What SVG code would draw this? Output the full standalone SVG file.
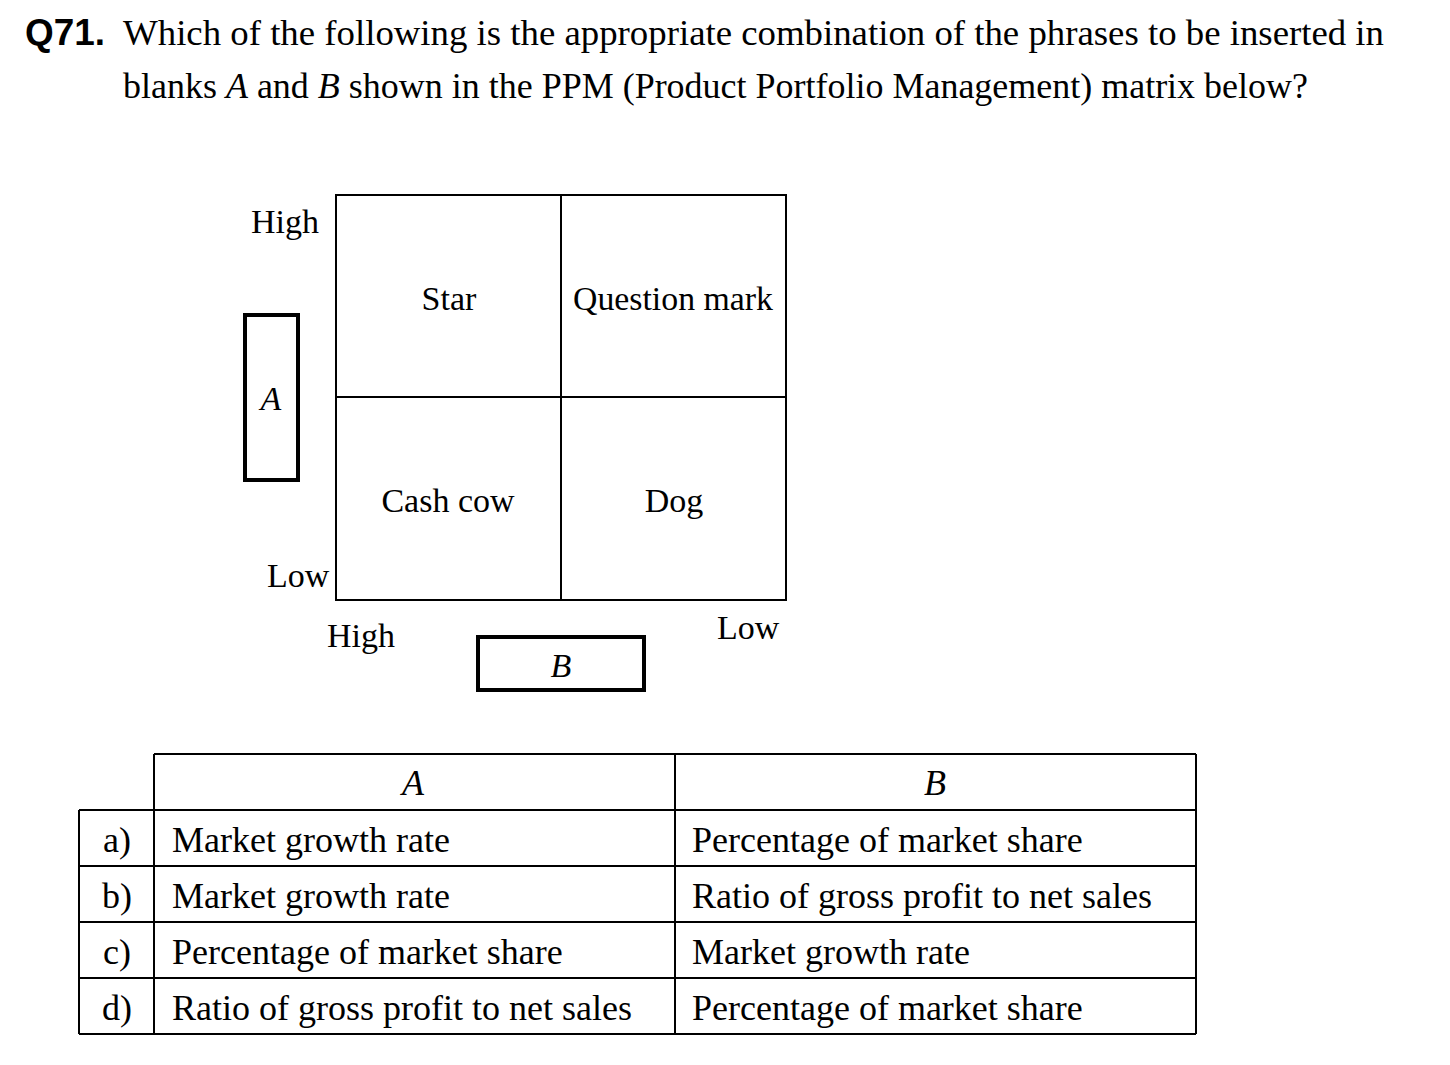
<svg xmlns="http://www.w3.org/2000/svg" width="1450" height="1065" viewBox="0 0 1450 1065">
<style>
.t{font-family:"Liberation Serif","Times New Roman",serif;font-size:36px;fill:#000}
.m{font-family:"Liberation Serif","Times New Roman",serif;font-size:34px;fill:#000}
.tb{font-family:"Liberation Serif","Times New Roman",serif;font-size:36px;fill:#000}
.i{font-style:italic}
.c{text-anchor:middle}
.q{font-family:"Liberation Sans",Arial,sans-serif;font-weight:bold;font-size:36px;fill:#000}
.ln{stroke:#000;stroke-width:2;fill:none}
.bx{stroke:#000;stroke-width:4;fill:none}
</style>
<rect width="1450" height="1065" fill="#fff"/>
<g id="question">
<text class="q" x="25" y="45" textLength="80" lengthAdjust="spacingAndGlyphs">Q71.</text>
<text class="t" x="123" y="45" textLength="1261" lengthAdjust="spacingAndGlyphs">Which of the following is the appropriate combination of the phrases to be inserted in</text>
<text class="t" x="123" y="98" textLength="1185" lengthAdjust="spacingAndGlyphs">blanks <tspan font-style="italic">A</tspan> and <tspan font-style="italic">B</tspan> shown in the PPM (Product Portfolio Management) matrix below?</text>
</g>
<g id="matrix">
<rect class="ln" x="336" y="195" width="450" height="405"/>
<line class="ln" x1="561" y1="195" x2="561" y2="600"/>
<line class="ln" x1="336" y1="397" x2="786" y2="397"/>
<text class="m c" x="449" y="310">Star</text>
<text class="m c" x="673" y="310" textLength="200" lengthAdjust="spacingAndGlyphs">Question mark</text>
<text class="m c" x="448" y="512">Cash cow</text>
<text class="m c" x="674" y="512">Dog</text>
</g>
<g id="axis-a">
<text class="m" x="251" y="233">High</text>
<rect class="bx" x="245" y="315" width="53" height="165"/>
<text class="m i c" x="271" y="410">A</text>
<text class="m" x="267" y="587">Low</text>
</g>
<g id="axis-b">
<text class="m" x="327" y="647">High</text>
<rect class="bx" x="478" y="637" width="166" height="53"/>
<text class="m i c" x="561" y="677">B</text>
<text class="m" x="717" y="639">Low</text>
</g>
<g id="table">
<g class="ln">
<line x1="154" y1="754" x2="1196" y2="754"/>
<line x1="79" y1="810" x2="1196" y2="810"/>
<line x1="79" y1="866" x2="1196" y2="866"/>
<line x1="79" y1="922" x2="1196" y2="922"/>
<line x1="79" y1="978" x2="1196" y2="978"/>
<line x1="79" y1="1034" x2="1196" y2="1034"/>
<line x1="79" y1="810" x2="79" y2="1034"/>
<line x1="154" y1="754" x2="154" y2="1034"/>
<line x1="675" y1="754" x2="675" y2="1034"/>
<line x1="1196" y1="754" x2="1196" y2="1034"/>
</g>
<text class="tb i c" x="413" y="795">A</text>
<text class="tb i c" x="935" y="795">B</text>
<text class="tb c" x="117" y="852">a)</text>
<text class="tb c" x="117" y="908">b)</text>
<text class="tb c" x="117" y="964">c)</text>
<text class="tb c" x="117" y="1020">d)</text>
<text class="tb" x="172" y="852">Market growth rate</text>
<text class="tb" x="172" y="908">Market growth rate</text>
<text class="tb" x="172" y="964">Percentage of market share</text>
<text class="tb" x="172" y="1020">Ratio of gross profit to net sales</text>
<text class="tb" x="692" y="852">Percentage of market share</text>
<text class="tb" x="692" y="908">Ratio of gross profit to net sales</text>
<text class="tb" x="692" y="964">Market growth rate</text>
<text class="tb" x="692" y="1020">Percentage of market share</text>
</g>
</svg>
